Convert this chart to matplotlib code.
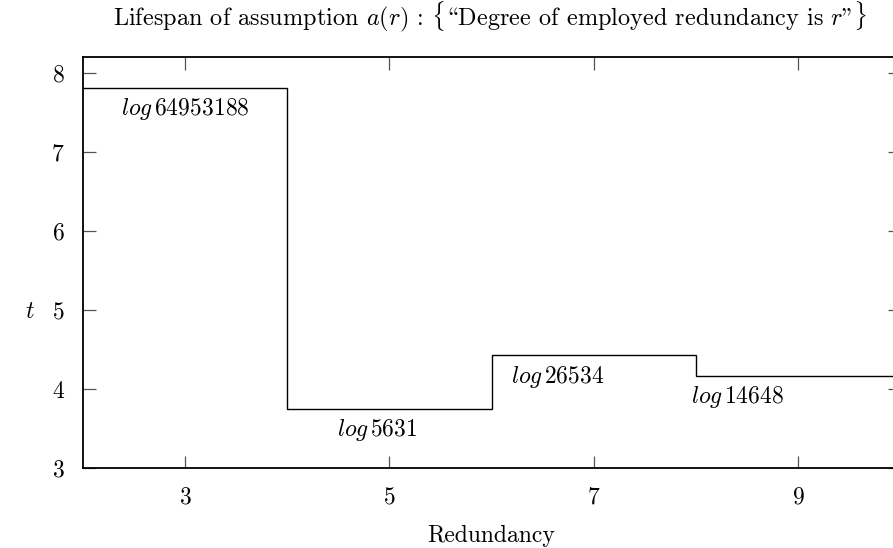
import numpy as np
import matplotlib
matplotlib.use('Agg')
import matplotlib.pyplot as plt

# step data: number of runs per redundancy bucket (shown as log10)
edges = [2, 4, 6, 8, 10]
counts = [64953188, 5631, 26534, 14648]
label_x = [3, 4.88, 6.65, 8.41]
x_ticks = [3, 5, 7, 9]
y_ticks = [3, 4, 5, 6, 7, 8]

plt.rcParams['font.family'] = ['cmr10', 'Liberation Serif']
plt.rcParams['mathtext.fontset'] = 'cm'
plt.rcParams['axes.formatter.use_mathtext'] = True
plt.rcParams['font.size'] = 17

t = np.log10(counts)

fig = plt.figure(figsize=(8.93, 5.48), dpi=100)
ax = fig.add_axes([83/893, 1 - 468/548, 817/893, 411/548])

ax.stairs(t, edges, baseline=None, color='black', lw=1.0)

for x, v, c in zip(label_x, t, counts):
    ax.annotate(r'$log\,%d$' % c, (x, v), xytext=(0, -6), textcoords='offset points',
                ha='center', va='top')

ax.set_xlim(2, 10)
ax.set_ylim(3, 8.2)
ax.set_xticks(x_ticks)
ax.set_yticks(y_ticks)
ax.tick_params(direction='in', length=9, width=0.9, color='#555555', pad=13,
               top=True, right=True, labelcolor='black')
for s in ax.spines.values():
    s.set_linewidth(1.3)

ax.set_xlabel('Redundancy', labelpad=12)
fig.text(30/893, 1 - 312/548, r'$t$', ha='center', va='center')
# cmr10 uses TeX (OT1) slots: "\" is the opening and '"' the closing double quote
fig.text(490/893, 1 - 17/548,
         'Lifespan of assumption $a(r)$ : $\\{$\\Degree of employed redundancy is $r$"$\\}$',
         ha='center', va='center', fontsize=17.5)

fig.savefig('out.png', dpi=100)
